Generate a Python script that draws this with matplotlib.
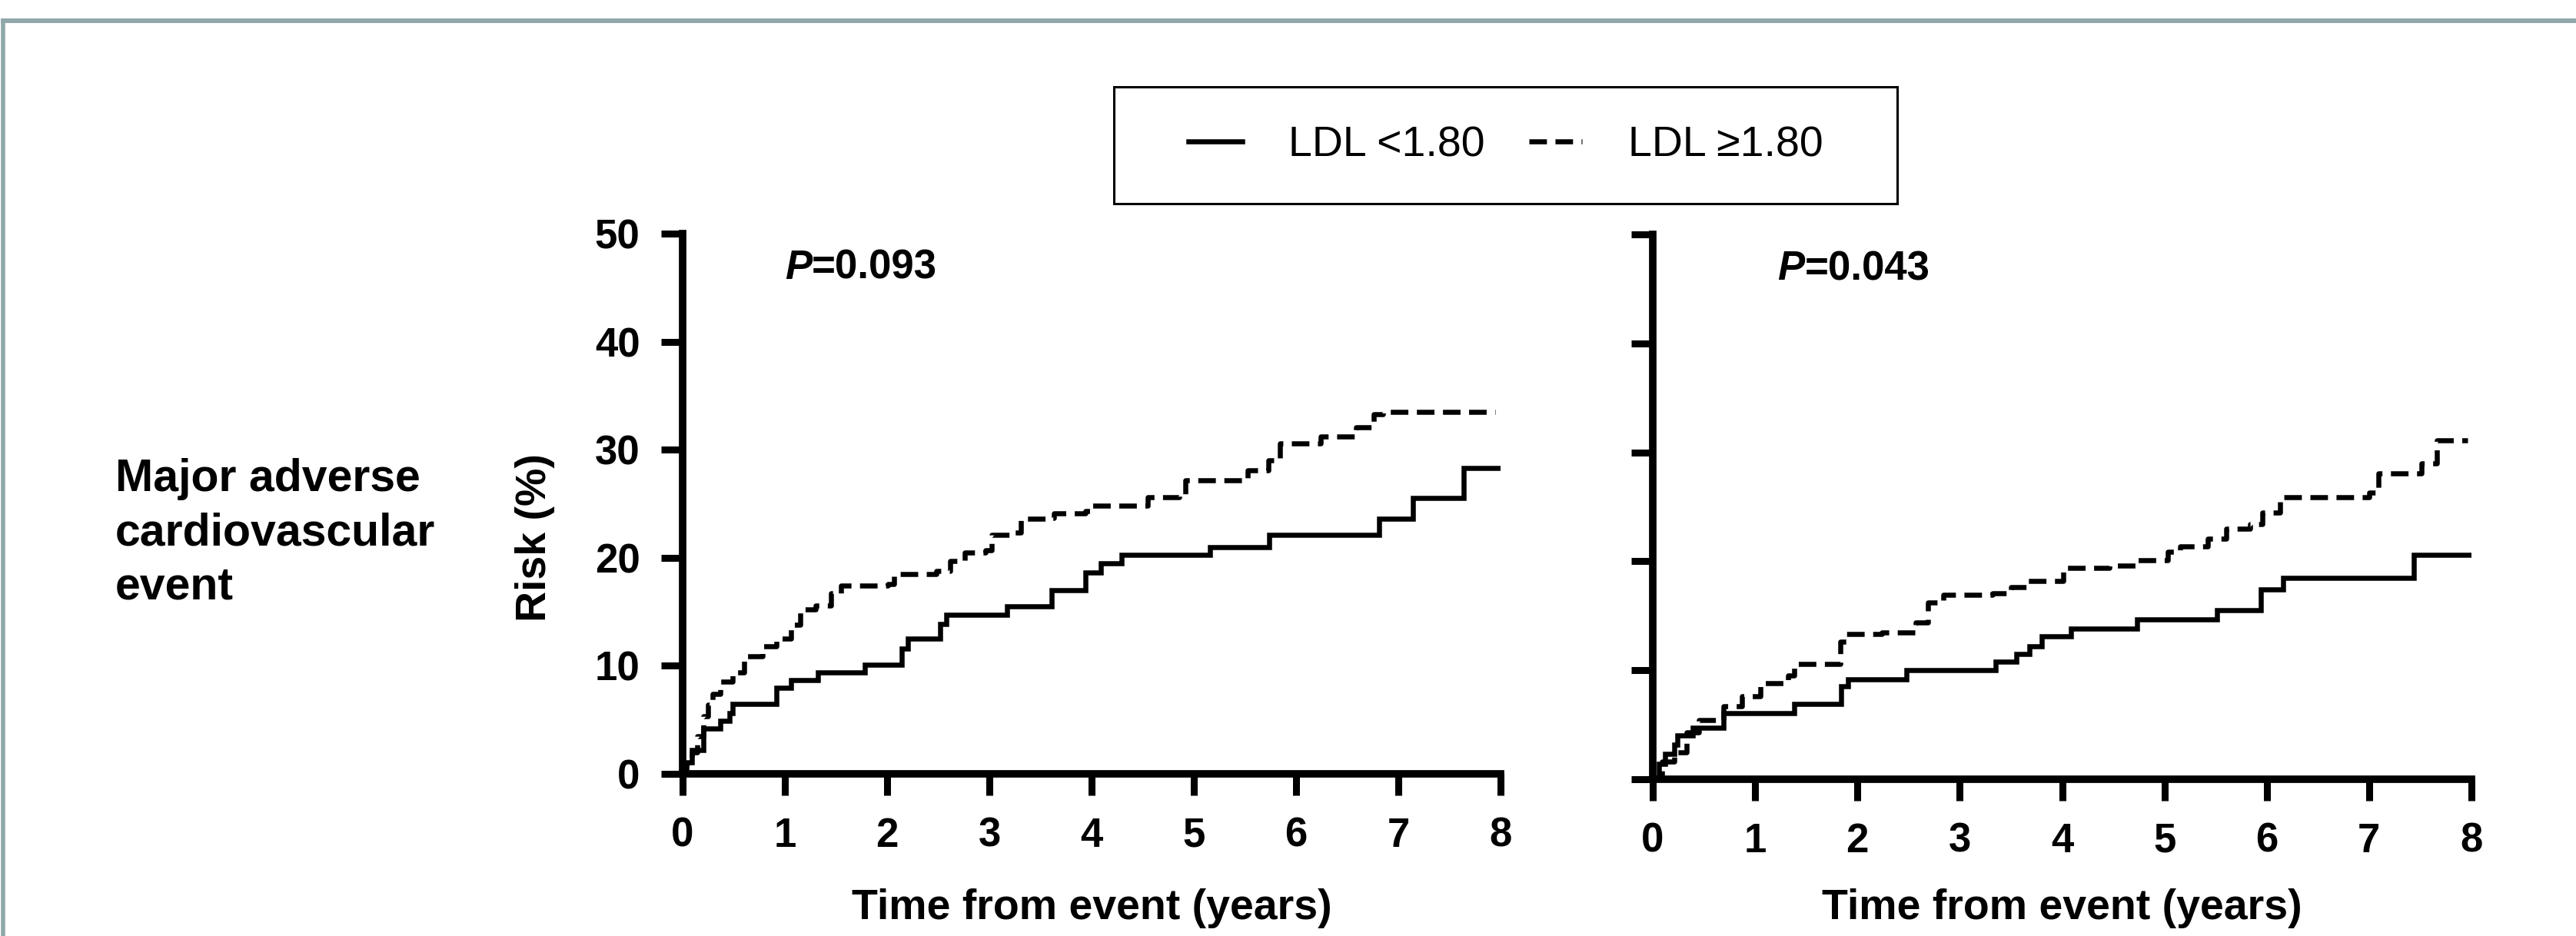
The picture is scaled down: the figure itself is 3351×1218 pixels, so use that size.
import matplotlib
matplotlib.use("Agg")
import matplotlib.pyplot as plt
from matplotlib.lines import Line2D
from matplotlib.patches import Rectangle

plt.rcParams['font.family'] = ['Liberation Sans', 'DejaVu Sans']

# left panel (P=0.093): time in years, cumulative risk in %
t_low_a = [0, 0.03, 0.09, 0.2, 0.37, 0.46, 0.49, 0.92, 1.06, 1.32, 1.78, 2.14, 2.2, 2.52, 2.58,
           3.17, 3.61, 3.94, 4.09, 4.29, 5.16, 5.74, 6.81, 7.14, 7.64, 8.0]
r_low_a = [0, 1.1, 2.2, 4.2, 4.9, 5.6, 6.5, 8.0, 8.7, 9.4, 10.1, 11.6, 12.5, 13.9, 14.7,
           15.5, 17.0, 18.6, 19.5, 20.3, 21.0, 22.1, 23.6, 25.5, 28.3, 28.3]
t_high_a = [0, 0.04, 0.09, 0.14, 0.2, 0.25, 0.29, 0.37, 0.49, 0.6, 0.78, 0.92, 1.06, 1.15, 1.3,
            1.45, 1.55, 2.01, 2.07, 2.48, 2.62, 2.76, 2.96, 3.02, 3.25, 3.31, 3.57, 3.63, 3.94,
            4.0, 4.55, 4.86, 4.92, 5.53, 5.73, 5.84, 6.24, 6.59, 6.76, 6.85, 7.95]
r_high_a = [0, 1.0, 2.0, 3.5, 5.3, 6.4, 7.4, 8.5, 9.4, 10.9, 11.8, 12.5, 13.8, 15.2, 15.6,
            16.7, 17.4, 17.6, 18.5, 18.8, 19.7, 20.5, 20.7, 22.1, 22.3, 23.6, 23.7, 24.1, 24.3,
            24.8, 25.6, 25.8, 27.2, 28.1, 29.0, 30.6, 31.2, 32.1, 33.3, 33.5, 33.5]

# right panel (P=0.043)
t_low_b = [0, 0.06, 0.12, 0.21, 0.24, 0.39, 0.69, 1.38, 1.84, 1.91, 2.48, 3.35, 3.55, 3.68,
           3.8, 4.09, 4.73, 5.51, 5.94, 6.16, 7.44, 8.0]
r_low_b = [0, 1.4, 2.3, 3.2, 4.0, 4.7, 6.1, 6.9, 8.5, 9.2, 10.0, 10.8, 11.5, 12.2,
           13.1, 13.8, 14.7, 15.5, 17.4, 18.5, 20.6, 20.6]
t_high_b = [0, 0.09, 0.21, 0.33, 0.45, 0.69, 0.87, 1.05, 1.32, 1.38, 1.83, 1.89, 2.24, 2.57,
            2.69, 2.84, 3.32, 3.5, 3.65, 4.01, 4.46, 4.73, 5.03, 5.15, 5.42, 5.6, 5.84, 5.96,
            6.13, 7.0, 7.09, 7.51, 7.66, 7.96]
r_high_b = [0, 1.6, 2.5, 4.3, 5.4, 6.7, 7.6, 8.8, 9.5, 10.6, 12.6, 13.3, 13.5, 14.4,
            16.2, 16.9, 17.1, 17.6, 18.2, 19.4, 19.6, 20.1, 20.9, 21.4, 22.1, 23.0, 23.4, 24.5,
            25.9, 26.3, 28.1, 29.0, 31.1, 31.1]

p_values = ["=0.093", "=0.043"]
x_ticks = [0, 1, 2, 3, 4, 5, 6, 7, 8]
y_ticks = [0, 10, 20, 30, 40, 50]
labels = ["LDL <1.80", "LDL \u22651.80"]

W, H = 3351, 1218
fig = plt.figure(figsize=(W / 100, H / 100), dpi=100)

LW = 4.7
DASH = (3.5, 1.7)

def fx(px):
    return px / W

def fy(py):
    return 1 - py / H

ax1 = fig.add_axes([fx(888), fy(1007), fx(1952) - fx(888), fy(304) - fy(1007)])
ax2 = fig.add_axes([fx(2150), fy(1014), fx(3215) - fx(2150), fy(305) - fy(1014)])

panels = [(ax1, t_low_a, r_low_a, t_high_a, r_high_a, p_values[0], 1.0, 31),
          (ax2, t_low_b, r_low_b, t_high_b, r_high_b, p_values[1], 1.22, 26)]

for ax, tl, rl, th, rh, pv, px, lpad in panels:
    ax.plot(tl, rl, drawstyle='steps-post', color='black', lw=LW, solid_joinstyle='miter')
    ax.plot(th, rh, drawstyle='steps-post', color='black', lw=LW, linestyle=(0, DASH),
            dash_capstyle='butt')
    ax.set_xlim(0, 8)
    ax.set_ylim(0, 50)
    ax.set_xticks(x_ticks)
    ax.set_yticks(y_ticks)
    for s in ['top', 'right']:
        ax.spines[s].set_visible(False)
    for s in ['left', 'bottom']:
        ax.spines[s].set_linewidth(7)
    ax.tick_params(direction='out', length=20, width=6.5, pad=20, labelsize=38)
    for lab in ax.get_xticklabels() + ax.get_yticklabels():
        lab.set_fontweight('bold')
    ax.set_xlabel("Time from event (years)", fontsize=40, fontweight='bold', labelpad=lpad)
    ptxt = ax.text(px, 46.8, "P", fontsize=38, fontweight='bold', style='italic',
                   ha='left', va='center')
    ax.annotate(pv, xy=(1, 0), xycoords=ptxt, ha='left', va='bottom',
                fontsize=38, fontweight='bold')

ax2.tick_params(labelleft=False)

fig.text(fx(696), fy(700), "Risk (%)", rotation=90, fontsize=40, fontweight='bold',
         ha='center', va='center')
fig.text(fx(150), fy(596), "Major adverse\ncardiovascular\nevent", fontsize=42.5,
         fontweight='bold', ha='left', va='top', linespacing=1.36)

# legend with a hand-drawn box
handles = [Line2D([], [], color='black', lw=LW),
           Line2D([], [], color='black', lw=LW, linestyle=(0, DASH), dash_capstyle='butt')]
fig.legend(handles, labels, loc='center', bbox_to_anchor=(fx(1959), fy(189)), ncol=2,
           frameon=False, fontsize=40, handlelength=1.25, handletextpad=1.08,
           columnspacing=1.03)
fig.add_artist(Rectangle((fx(1449), fy(265)), fx(2468) - fx(1449), fy(113) - fy(265),
                         transform=fig.transFigure, fill=False, edgecolor='black', lw=2.2))

# grey frame at top and left of the figure
frame_col = '#8fa7a8'
fig.add_artist(Line2D([fx(1), 1], [fy(27), fy(27)], transform=fig.transFigure,
                      color=frame_col, lw=4.3, solid_capstyle='butt'))
fig.add_artist(Line2D([fx(3.5), fx(3.5)], [fy(24), 0], transform=fig.transFigure,
                      color=frame_col, lw=4.0, solid_capstyle='butt'))

fig.savefig("out.png", dpi=100, facecolor='white')
